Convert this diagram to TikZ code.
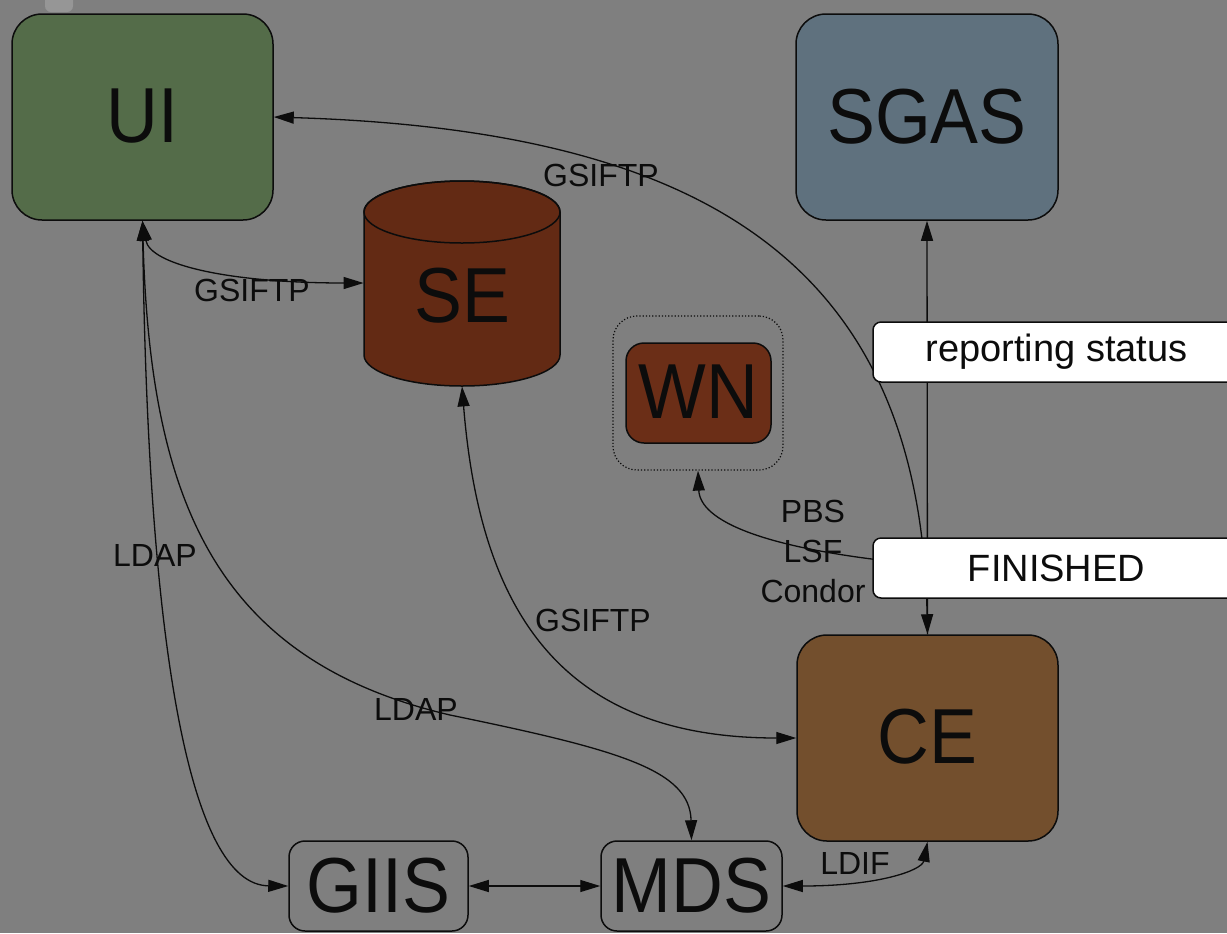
\documentclass[tikz,border=0pt]{standalone}
\usepackage{fontspec}
\setmainfont{Liberation Sans}
\newfontfamily\bigfont{Liberation Sans}[FakeStretch=0.92]
\usetikzlibrary{arrows.meta}
\definecolor{bg}{RGB}{127,127,127}
\definecolor{uigreen}{RGB}{84,108,73}
\definecolor{sgasblue}{RGB}{95,113,126}
\definecolor{sebrown}{RGB}{99,42,20}
\definecolor{wnbrown}{RGB}{107,46,23}
\definecolor{cebrown}{RGB}{115,79,45}
\definecolor{ink}{RGB}{12,12,12}
\definecolor{artifact}{RGB}{150,150,150}
\tikzset{
  big/.style={font=\bigfont\fontsize{39}{44}\selectfont, text=ink},
  box/.style={draw=ink, line width=0.75pt, big, inner sep=0pt},
  lbl/.style={font=\fontsize{16}{20}\selectfont, inner sep=0pt, text=ink},
  wbox/.style={draw=ink, fill=white, line width=0.75pt, rounded corners=4pt,
    font=\fontsize{19}{23}\selectfont, inner sep=0pt, text=ink},
  conn/.style={line width=0.65pt, draw=ink},
  arr/.style={conn, -{Triangle[length=10pt,width=6pt]}},
  bi/.style={conn, {Triangle[length=10pt,width=6pt]}-{Triangle[length=10pt,width=6pt]}}
}
\begin{document}
\begin{tikzpicture}[x=0.5pt,y=-0.5pt]
\useasboundingbox (0,0) rectangle (1227,933);
\fill[bg] (0,0) rectangle (1227,933);
\clip (0,0) rectangle (1227,933);
\fill[artifact, rounded corners=3pt] (45,-10) rectangle (73,12);

% nodes
\node[box, fill=uigreen, minimum width=130.5pt, minimum height=103pt, rounded corners=15pt,
  text depth=0pt] (UI) at (142.5,117) {\raisebox{1.5pt}{UI}};
\node[box, fill=sgasblue, minimum width=131pt, minimum height=103pt, rounded corners=15pt] (SGAS) at (927,117) {SGAS};
\node[box, fill=cebrown, minimum width=130.5pt, minimum height=103pt, rounded corners=15pt] (CE) at (927.5,738) {\raisebox{1.5pt}{CE}};

% SE cylinder
\filldraw[fill=sebrown, draw=ink, line width=0.75pt]
  (364,212) -- (364,355) arc[start angle=180, end angle=0, x radius=98, y radius=31]
  -- (560,212) arc[start angle=0, end angle=-180, x radius=98, y radius=31] -- cycle;
\draw[ink, line width=0.75pt] (462,212) ellipse[x radius=98, y radius=31];
\node[inner sep=0pt, minimum width=98pt, minimum height=103pt] (SE) at (462,283) {};
\node[big, inner sep=0pt] (SEtext) at (462,296) {SE};

% WN
\node[draw=ink, densely dotted, line width=0.6pt, rounded corners=12pt, minimum width=85pt, minimum height=77pt] (WNbox) at (698,393) {};
\node[box, fill=wnbrown, minimum width=72.5pt, minimum height=50pt, rounded corners=9pt] (WN) at (698.5,393) {\raisebox{1.5pt}{WN}};

% GIIS, MDS
\node[box, fill=bg, minimum width=89.5pt, minimum height=45pt, rounded corners=8pt] (GIIS) at (378.5,886) {GIIS};
\node[box, fill=bg, minimum width=90.5pt, minimum height=45pt, rounded corners=8pt] (MDS) at (691.5,886) {MDS};

% connectors
\draw[arr] (CE.north) -- (SGAS.south);
\draw[bi] (UI.east) .. controls (700,130) and (920,260) .. (CE.north);
\draw[bi] (UI.south) .. controls (150,265) and (230,283) .. (SE.west);
\draw[bi] (UI.south) .. controls (148,650) and (190,885) .. (GIIS.west);
\draw[bi] (UI.south) .. controls (150,500) and (215,660) .. (450,715) .. controls (620,750) and (690,770) .. (MDS.north);
\draw[bi] (SE.south) .. controls (480,610) and (560,738) .. (CE.west);
\coordinate (fin) at (927,565);
\draw[arr] (fin) .. controls (760,550) and (700,520) .. (WNbox.south);
\draw[bi] (GIIS.east) -- (MDS.west);
\draw[bi] (MDS.east) .. controls (880,886) and (922,870) .. (CE.south);

% white status boxes
\node[wbox, minimum width=183.5pt, minimum height=30pt] (rep) at (1056.5,352) {reporting status};
\node[wbox, minimum width=183.5pt, minimum height=30pt] (finbox) at (1056.5,568) {FINISHED};

% labels
\node[lbl] (l1) at (601,175) {GSIFTP};
\node[lbl] (l2) at (252,290) {GSIFTP};
\node[lbl] (l3) at (155,555) {LDAP};
\node[lbl] (l4) at (416,709) {LDAP};
\node[lbl] (l5) at (593,620) {GSIFTP};
\node[lbl, align=center, font=\fontsize{16}{20}\selectfont] (l6) at (813,551) {PBS\\LSF\\Condor};
\node[lbl] (l7) at (855,863) {LDIF};
\end{tikzpicture}
\end{document}
